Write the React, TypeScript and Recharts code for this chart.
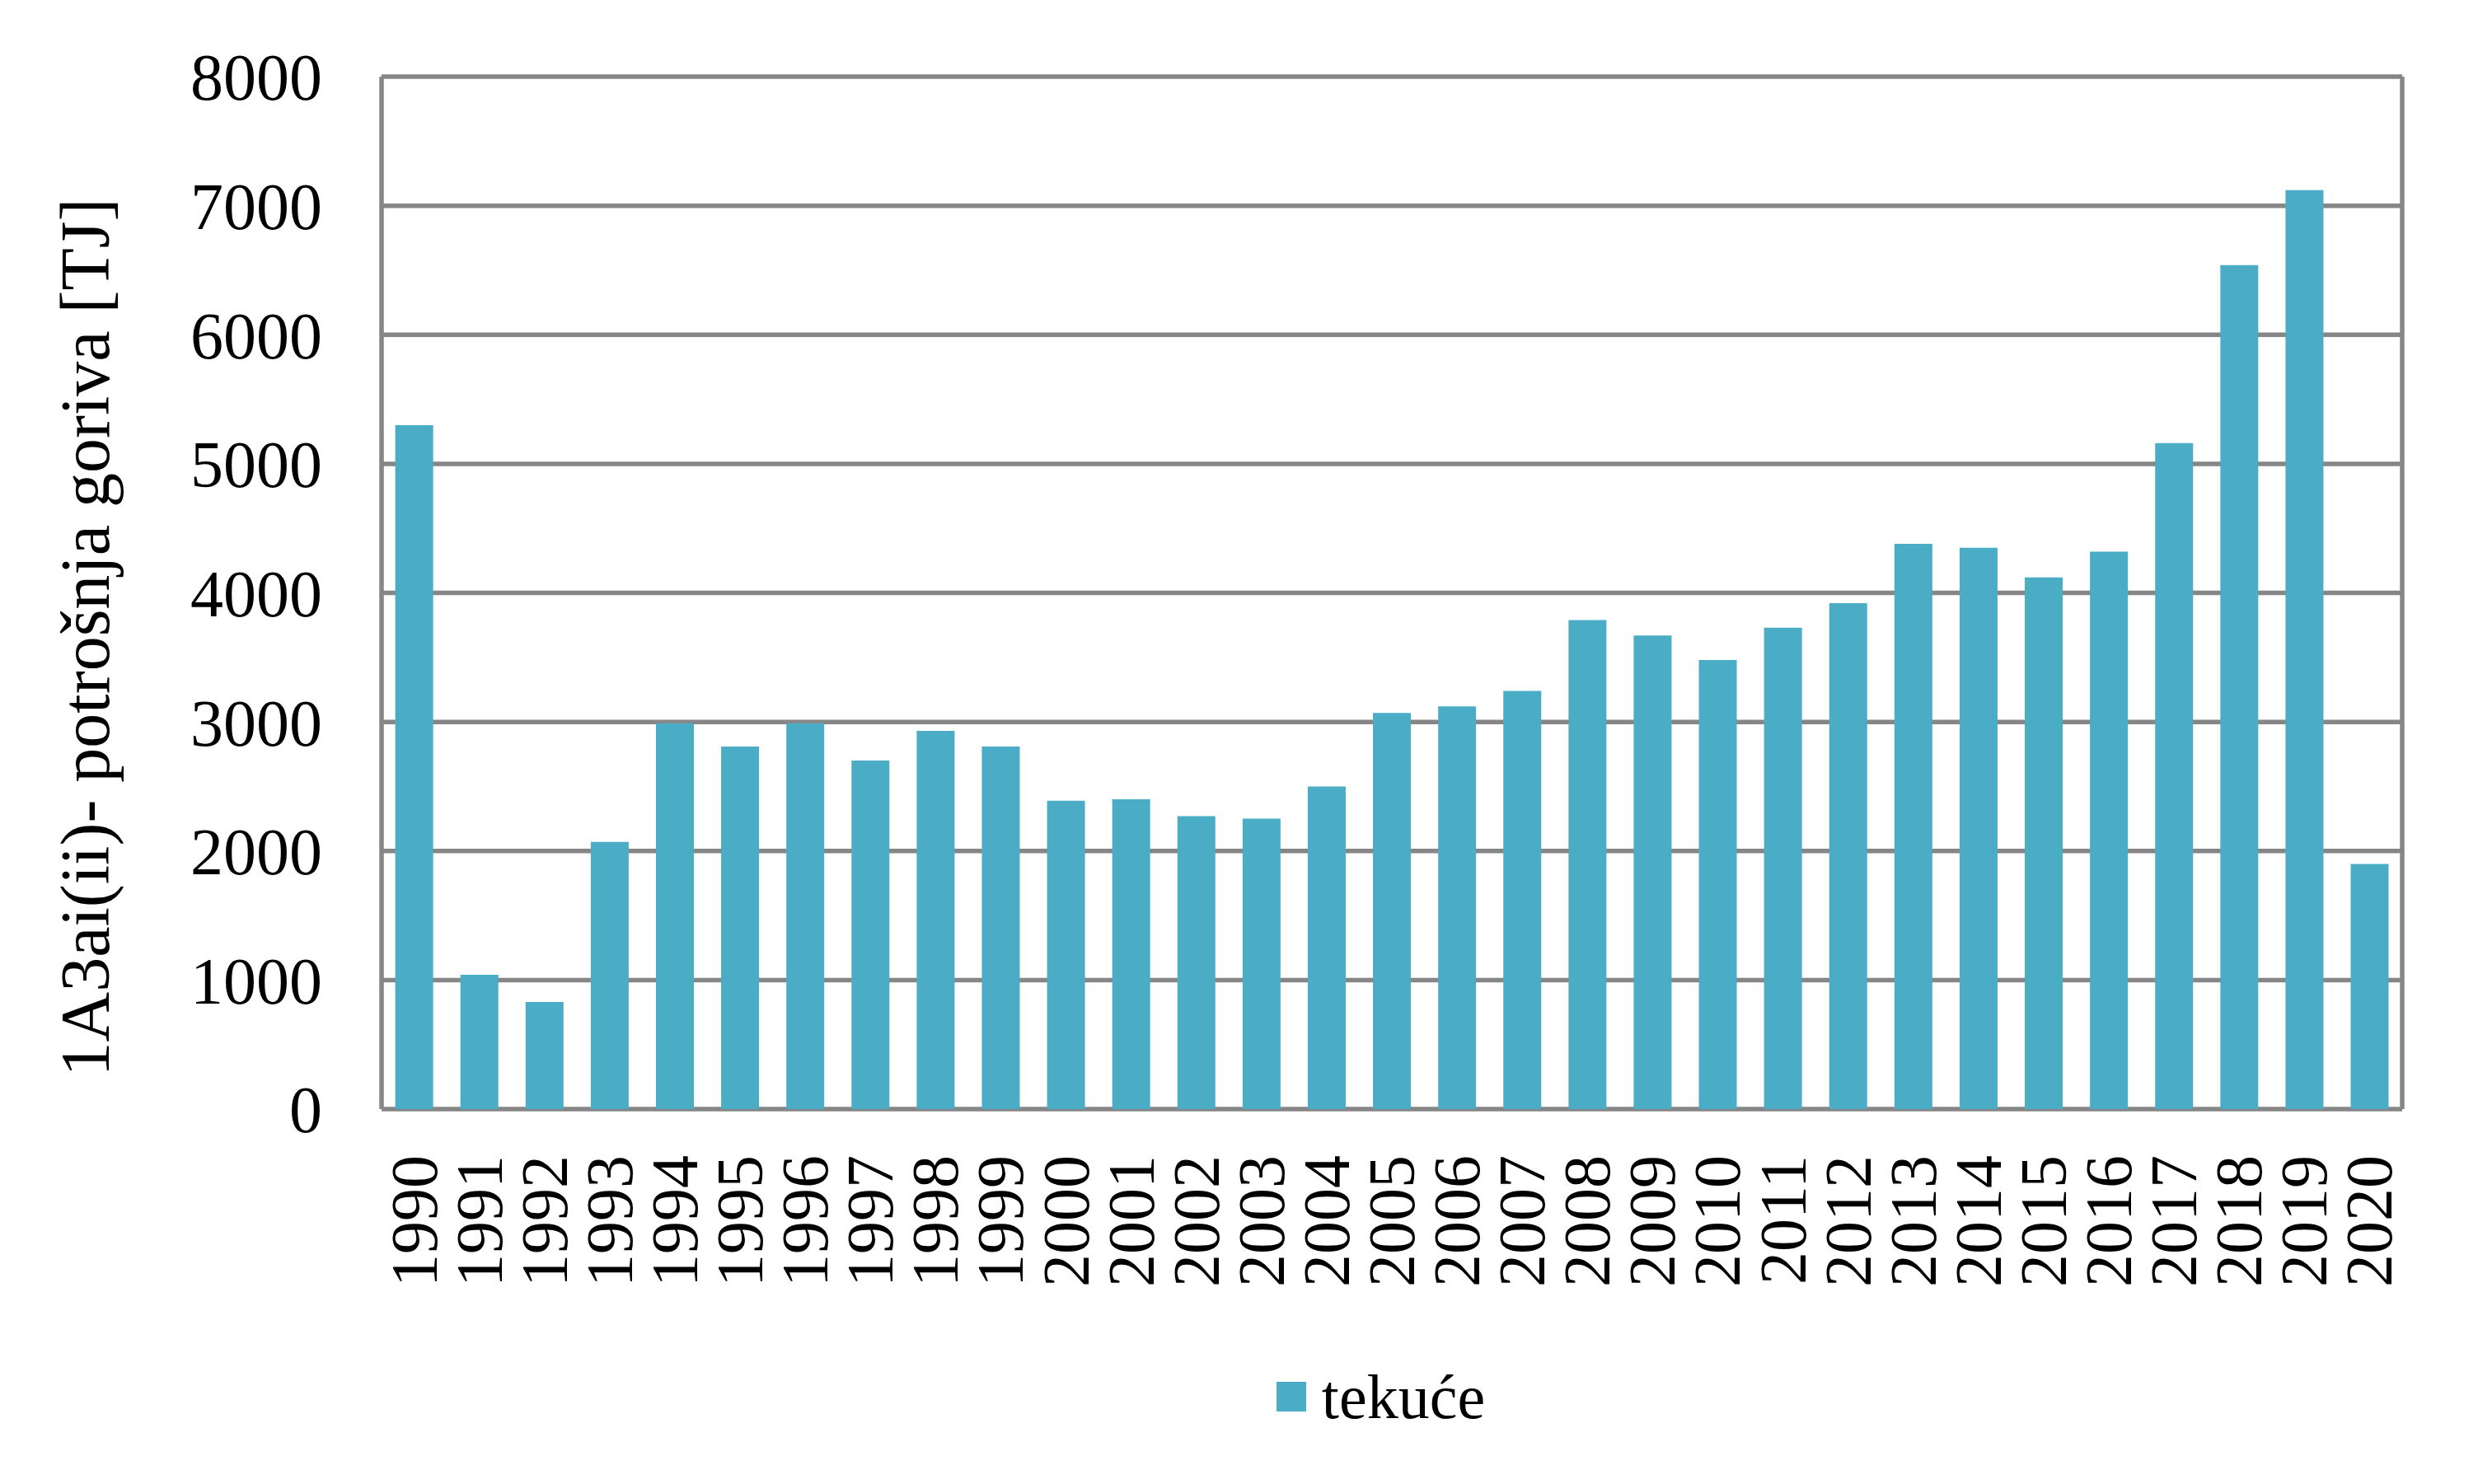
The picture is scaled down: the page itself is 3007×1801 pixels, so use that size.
import { BarChart, Bar, XAxis, YAxis, CartesianGrid, Legend } from "recharts";

const years = [
  "1990", "1991", "1992", "1993", "1994", "1995", "1996", "1997", "1998", "1999",
  "2000", "2001", "2002", "2003", "2004", "2005", "2006", "2007", "2008", "2009",
  "2010", "2011", "2012", "2013", "2014", "2015", "2016", "2017", "2018", "2019", "2020",
];

// tekuće, TJ
const liquid = [
  5300, 1040, 830, 2070, 2990, 2810, 2990, 2700, 2930, 2810,
  2390, 2400, 2270, 2250, 2500, 3070, 3120, 3240, 3790, 3670,
  3480, 3730, 3920, 4380, 4350, 4120, 4320, 5160, 6540, 7120, 1900,
];

const yTicks = [0, 1000, 2000, 3000, 4000, 5000, 6000, 7000, 8000];

const seriesName = "tekuće";
const yLabel = "1A3ai(ii)- potrošnja goriva [TJ]";

const data = years.map((y, i) => ({ year: y, tekuce: liquid[i] }));

const BAR = "#4BACC6";
const GRID = "#868686";
const FONT = '"Liberation Serif", "Times New Roman", serif';

const YearTick = (props: any) => {
  const { x, y, payload } = props;
  return (
    <text
      x={x}
      y={y}
      transform={`rotate(-90 ${x} ${y})`}
      textAnchor="end"
      dominantBaseline="central"
      fontFamily={FONT}
      fontSize={80}
      fill="#000"
    >
      {payload.value}
    </text>
  );
};

const AxisTitle = (props: any) => {
  const { viewBox } = props;
  const cx = viewBox.x + 132;
  const cy = viewBox.y + viewBox.height / 2 + 54;
  return (
    <text
      x={cx}
      y={cy}
      transform={`rotate(-90 ${cx} ${cy})`}
      textAnchor="middle"
      fontFamily={FONT}
      fontSize={84}
      fill="#000"
    >
      {yLabel}
    </text>
  );
};

const LegendBox = (props: any) => {
  const items = props.payload || [];
  return (
    <div style={{ display: "flex", justifyContent: "center", alignItems: "center" }}>
      {items.map((it: any) => (
        <div key={it.value} style={{ display: "flex", alignItems: "center" }}>
          <span style={{ width: 36, height: 36, background: BAR, marginRight: 19, display: "inline-block" }} />
          <span style={{ fontFamily: FONT, fontSize: 76, lineHeight: "80px", color: "#000" }}>{it.value}</span>
        </div>
      ))}
    </div>
  );
};

export default function App() {
  return (
    <div style={{ position: "absolute", left: 0, top: 0, width: 3007, height: 1801, background: "#fff" }}>
      <BarChart
        width={3007}
        height={1801}
        data={data}
        margin={{ top: 93, right: 92, bottom: 225, left: 0 }}
        barCategoryGap="21%"
      >
        <CartesianGrid
          stroke={GRID}
          strokeWidth={5.5}
          verticalCoordinatesGenerator={({ offset }: any) => [offset.left, offset.left + offset.width]}
        />
        <XAxis
          dataKey="year"
          height={230}
          axisLine={false}
          tickLine={false}
          tickSize={0}
          tickMargin={56}
          interval={0}
          tick={<YearTick />}
        />
        <YAxis
          width={463}
          domain={[0, 8000]}
          ticks={yTicks}
          axisLine={false}
          tickLine={false}
          tickSize={0}
          tickMargin={72}
          tick={{ fontFamily: FONT, fontSize: 80, fill: "#000" }}
          label={{ content: <AxisTitle /> }}
        />
        <Legend
          layout="horizontal"
          verticalAlign="middle"
          align="center"
          content={<LegendBox />}
          wrapperStyle={{ top: 1655, left: 443, width: 2465, height: 80 }}
        />
        <Bar dataKey="tekuce" name={seriesName} fill={BAR} isAnimationActive={false} />
      </BarChart>
    </div>
  );
}
